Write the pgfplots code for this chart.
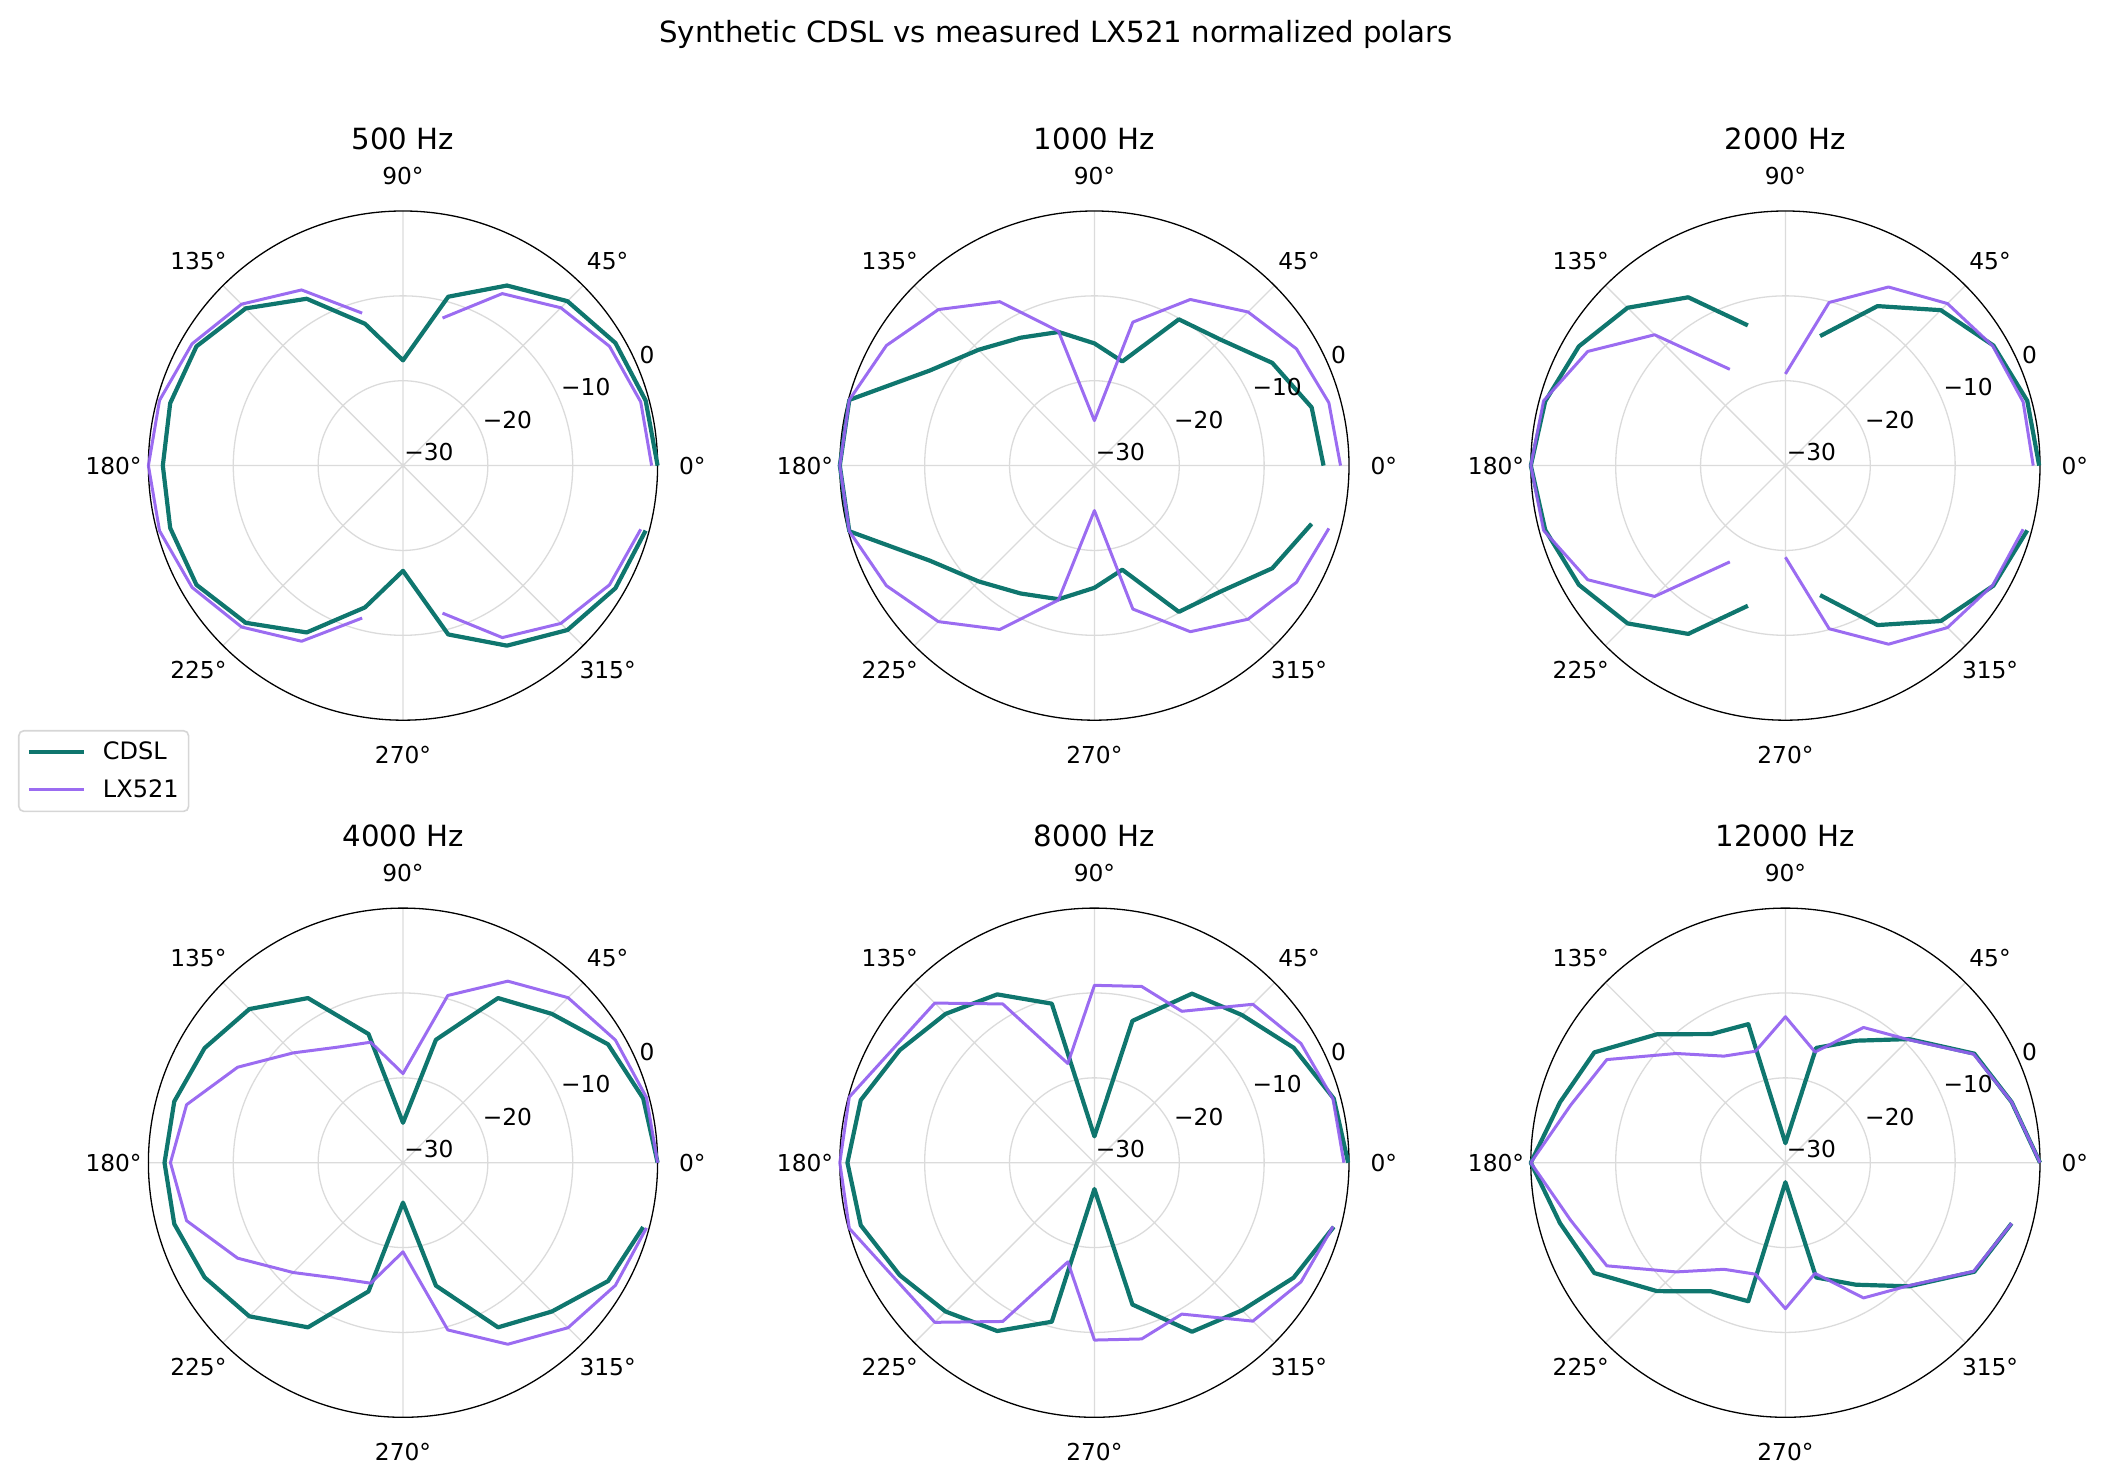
\documentclass[border=0pt]{standalone}
\usepackage{fontspec}
\setmainfont{DejaVu Sans}
\usepackage{pgfplots}
\usepackage{pgfplotstable}
\usepgfplotslibrary{polar}
\pgfplotsset{compat=1.18}

\definecolor{cdsl}{HTML}{0F766E}
\definecolor{lx}{HTML}{9360F0}

\newcommand{\tickfont}{\fontsize{11.65pt}{14pt}\selectfont}
\newcommand{\titfont}{\fontsize{14.6pt}{17pt}\selectfont}
\newcommand{\legfont}{\fontsize{12pt}{14pt}\selectfont}

% angle  CDSL  LX521  (dB)
\pgfplotstableread{
a c l
0 0.0 -0.7
15 -0.4 -1.0
30 -1.1 -1.9
45 -2.6 -3.7
60 -5.5 -6.6
75 -9.4 -12.0
90 -17.6 nan
105 -12.7 -11.4
120 -7.3 -6.1
135 -3.8 -3.1
150 -1.9 -1.3
165 -1.6 -0.3
180 -1.7 0.0
195 -1.6 -0.3
210 -1.9 -1.3
225 -3.8 -3.1
240 -7.3 -6.1
255 -12.7 -11.4
270 -17.6 nan
285 -9.4 -12.0
300 -5.5 -6.6
315 -2.6 -3.7
330 -1.1 -1.9
345 -0.4 -1.0
}\tabA

\pgfplotstableread{
a c l
0 -3.0 -1.0
15 -3.5 -1.4
30 -5.8 -2.5
45 -9.0 -4.4
60 -10.1 -7.4
75 -17.3 -12.5
90 -15.6 -24.7
105 -13.7 -13.6
120 -12.6 -7.7
135 -10.7 -4.0
150 -7.6 -1.7
165 -0.1 -0.1
180 0.0 0.0
195 -0.1 -0.1
210 -7.6 -1.7
225 -10.7 -4.0
240 -12.6 -7.7
255 -13.7 -13.6
270 -15.6 -24.7
285 -17.3 -12.5
300 -10.1 -7.4
315 -9.0 -4.4
330 -5.8 -2.5
345 -3.5 -1.4
}\tabB

\pgfplotstableread{
a c l
0 -0.1 -0.8
15 -0.5 -1.0
30 -1.7 -1.8
45 -4.1 -3.0
60 -8.3 -5.7
75 -14.2 -10.1
90 nan -19.2
105 -12.9 nan
120 -7.1 -16.9
135 -3.7 -8.2
150 -1.9 -3.1
165 -0.7 -0.5
180 0.0 0.0
195 -0.7 -0.5
210 -1.9 -3.1
225 -3.7 -8.2
240 -7.1 -16.9
255 -12.9 nan
270 nan -19.2
285 -14.2 -10.1
300 -8.3 -5.7
315 -4.1 -3.0
330 -1.7 -1.8
345 -0.5 -1.0
}\tabC

\pgfplotstableread{
a c l
0 0.0 0.0
15 -0.7 -0.3
30 -2.1 -1.1
45 -5.2 -2.5
60 -7.6 -5.3
75 -15.0 -9.6
90 -25.3 -19.5
105 -14.3 -15.3
120 -7.6 -14.3
135 -4.4 -11.7
150 -3.0 -7.5
165 -2.1 -3.6
180 -1.9 -2.6
195 -2.1 -3.6
210 -3.0 -7.5
225 -4.4 -11.7
240 -7.6 -14.3
255 -14.3 -15.3
270 -25.3 -19.5
285 -15.0 -9.6
300 -7.6 -5.3
315 -5.2 -2.5
330 -2.1 -1.1
345 -0.7 -0.3
}\tabD

\pgfplotstableread{
a c l
0 -0.1 -0.6
15 -0.8 -0.9
30 -2.9 -1.9
45 -5.4 -3.6
60 -7.0 -9.4
75 -12.7 -8.5
90 -26.9 -9.1
105 -10.6 -17.9
120 -7.1 -8.4
135 -5.2 -3.4
150 -3.5 -2.8
165 -1.5 -0.1
180 -0.9 0.0
195 -1.5 -0.1
210 -3.5 -2.8
225 -5.2 -3.4
240 -7.1 -8.4
255 -10.6 -17.9
270 -26.9 -9.1
285 -12.7 -8.5
300 -7.0 -9.4
315 -5.4 -3.6
330 -2.9 -1.9
345 -0.8 -0.9
}\tabE

\pgfplotstableread{
a c l
0 0.0 0.0
15 -2.4 -2.4
30 -4.3 -4.4
45 -9.4 -9.5
60 -13.4 -11.6
75 -16.0 -16.5
90 -27.7 -12.8
105 -13.1 -16.4
120 -12.5 -15.5
135 -8.6 -11.8
150 -4.0 -5.7
165 -2.5 -3.8
180 0.0 0.0
195 -2.5 -3.8
210 -4.0 -5.7
225 -8.6 -11.8
240 -12.5 -15.5
255 -13.1 -16.4
270 -27.7 -12.8
285 -16.0 -16.5
300 -13.4 -11.6
315 -9.4 -9.5
330 -4.3 -4.4
345 -2.4 -2.4
}\tabF

\pgfplotsset{
  mypolar/.style={
    scale only axis, width=254.6pt, height=254.6pt,
    anchor=center,
    xmin=0, xmax=360, ymin=0, ymax=30,
    xtick={0,45,...,315}, ytick={10,20},
    xticklabels={}, yticklabels={},
    major tick length=0pt,
    grid=major,
    major grid style={draw=black!14, line width=0.65pt},
    axis line style={black, line width=0.65pt},
    y axis line style={draw=none},
    clip=false,
    unbounded coords=jump,
  },
  cd/.style={color=cdsl, line width=2.1pt, line join=round},
  lxs/.style={color=lx, line width=1.5pt, line join=round, opacity=0.92},
}

\newcommand{\deco}[1]{%
  \pgfplotsinvokeforeach{0,45,90,135,180,225,270,315}{%
    \node[font=\tickfont, inner sep=0pt] at (axis cs:##1,34.1) {##1°};}
  \node[font=\tickfont, inner sep=0pt, anchor=base west, xshift=0.5pt, yshift=2.4pt] at (axis cs:22.5,0) {−30};
  \node[font=\tickfont, inner sep=0pt, anchor=base west, xshift=0.5pt, yshift=2.4pt] at (axis cs:22.5,10) {−20};
  \node[font=\tickfont, inner sep=0pt, anchor=base west, xshift=0.5pt, yshift=2.4pt] at (axis cs:22.5,20) {−10};
  \node[font=\tickfont, inner sep=0pt, anchor=base west, xshift=0.5pt, yshift=2.4pt] at (axis cs:22.5,30) {0};
  \node[font=\titfont, inner sep=0pt] at (axis cs:90,38.53) {#1};
}

\begin{document}
\begin{tikzpicture}
\path[use as bounding box] (0pt,0pt) rectangle (1053.5pt,741.5pt);
\node[font=\titfont, anchor=base] at (528pt,720pt) {Synthetic CDSL vs measured LX521 normalized polars};

\begin{polaraxis}[mypolar, at={(201.5pt,508.7pt)},
  legend style={at={(-0.2561,-0.0192)}, anchor=north west, draw=black!16, line width=0.8pt,
    rounded corners=2.5pt, font=\legfont, inner xsep=4pt, inner ysep=4.5pt, row sep=6.5pt,
    column sep=7.5pt, nodes={inner sep=1pt}},
  legend cell align=left,
  legend image code/.code={\draw[#1] (0pt,0pt) -- (27.5pt,0pt);}]
\addplot[cd] table[x=a, y expr=\thisrow{c}+30] {\tabA};
\addlegendentry{CDSL}
\addplot[lxs] table[x=a, y expr=\thisrow{l}+30] {\tabA};
\addlegendentry{LX521}
\deco{500 Hz}
\end{polaraxis}

\begin{polaraxis}[mypolar, at={(547.2pt,508.7pt)}]
\addplot[cd] table[x=a, y expr=\thisrow{c}+30] {\tabB};
\addplot[lxs] table[x=a, y expr=\thisrow{l}+30] {\tabB};
\deco{1000 Hz}
\end{polaraxis}

\begin{polaraxis}[mypolar, at={(892.7pt,508.7pt)}]
\addplot[cd] table[x=a, y expr=\thisrow{c}+30] {\tabC};
\addplot[lxs] table[x=a, y expr=\thisrow{l}+30] {\tabC};
\deco{2000 Hz}
\end{polaraxis}

\begin{polaraxis}[mypolar, at={(201.5pt,160.15pt)}]
\addplot[cd] table[x=a, y expr=\thisrow{c}+30] {\tabD};
\addplot[lxs] table[x=a, y expr=\thisrow{l}+30] {\tabD};
\deco{4000 Hz}
\end{polaraxis}

\begin{polaraxis}[mypolar, at={(547.2pt,160.15pt)}]
\addplot[cd] table[x=a, y expr=\thisrow{c}+30] {\tabE};
\addplot[lxs] table[x=a, y expr=\thisrow{l}+30] {\tabE};
\deco{8000 Hz}
\end{polaraxis}

\begin{polaraxis}[mypolar, at={(892.7pt,160.15pt)}]
\addplot[cd] table[x=a, y expr=\thisrow{c}+30] {\tabF};
\addplot[lxs] table[x=a, y expr=\thisrow{l}+30] {\tabF};
\deco{12000 Hz}
\end{polaraxis}
\end{tikzpicture}
\end{document}
